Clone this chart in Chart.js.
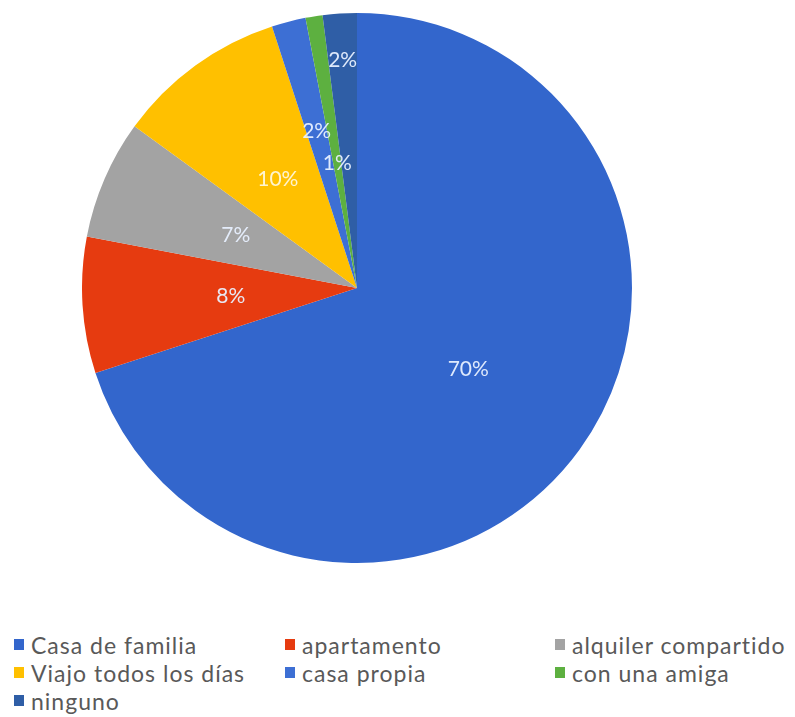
<!DOCTYPE html>
<html>
<head>
<meta charset="utf-8">
<script src="https://cdn.jsdelivr.net/npm/chart.js@4.4.0/dist/chart.umd.min.js"></script>
<style>
  body { margin: 0; background: #fff; width: 795px; height: 717px; position: relative; overflow: hidden; }
  #pieBox { position: absolute; left: 82px; top: 13px; width: 550px; height: 550px; }
  #legend { position: absolute; left: 14px; top: 633px; display: grid;
            grid-template-columns: 271px 270px 250px; row-gap: 5px;
            font-family: Lato, 'Noto Sans', sans-serif; font-size: 23px; letter-spacing: 1px; color: #595959; }
  #legend div { display: flex; align-items: center; height: 23px; white-space: nowrap; }
  #legend span.sw { width: 10px; height: 11px; margin-right: 7px; display: inline-block; }
</style>
</head>
<body>
<div id="pieBox"><canvas id="pieChart"></canvas></div>
<div id="legend"></div>
<script>
const categorias = ['Casa de familia', 'apartamento', 'alquiler compartido', 'Viajo todos los días', 'casa propia', 'con una amiga', 'ninguno'];
const porcentajes = [70, 8, 7, 10, 2, 1, 2];
const colores = ['#3366CC', '#E63B10', '#A3A3A3', '#FFC000', '#3D6FD4', '#5DB040', '#2F5EA6'];

// how far out (fraction of radius) each percentage label sits
const labelRadio = [0.5, 0.46, 0.48, 0.49, 0.59, 0.46, 0.83];

const pieLabels = {
    id: 'pieLabels',
    afterDatasetsDraw(chart) {
        const ctx = chart.ctx;
        const meta = chart.getDatasetMeta(0);
        const total = porcentajes.reduce((a, b) => a + b, 0);
        ctx.save();
        ctx.font = '21px Lato, "Noto Sans", sans-serif';
        ctx.textAlign = 'center';
        ctx.textBaseline = 'middle';
        meta.data.forEach(function(arc, i) {
            const mid = (arc.startAngle + arc.endAngle) / 2;
            const r = arc.outerRadius * labelRadio[i];
            const x = arc.x + Math.cos(mid) * r;
            const y = arc.y + Math.sin(mid) * r;
            ctx.fillStyle = i === 3 ? '#FFF4D0' : 'rgba(232,240,255,0.95)';
            ctx.fillText(Math.round(porcentajes[i] / total * 100) + '%', x, y);
        });
        ctx.restore();
    }
};

const pieChart = new Chart(document.getElementById('pieChart').getContext('2d'), {
    type: 'pie',
    data: {
        labels: categorias,
        datasets: [{
            data: porcentajes,
            backgroundColor: colores,
            borderWidth: 0
        }]
    },
    options: {
        responsive: true,
        maintainAspectRatio: false,
        animation: false,
        layout: { padding: 0 },
        plugins: {
            legend: { display: false },
            tooltip: { enabled: false }
        }
    },
    plugins: [pieLabels]
});

// legend in three columns under the pie
const legendDiv = document.getElementById('legend');
pieChart.options.plugins.legend.labels.generateLabels(pieChart).forEach(function(item) {
    const row = document.createElement('div');
    const sw = document.createElement('span');
    sw.className = 'sw';
    sw.style.background = item.fillStyle;
    row.appendChild(sw);
    row.appendChild(document.createTextNode(item.text));
    legendDiv.appendChild(row);
});
</script>
</body>
</html>
